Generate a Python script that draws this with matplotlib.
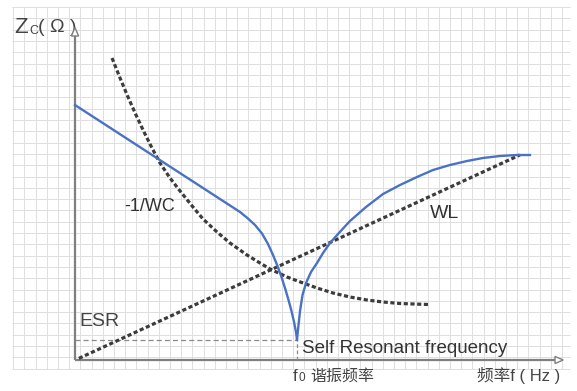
import numpy as np
import matplotlib
matplotlib.use("Agg")
import matplotlib.pyplot as plt
from matplotlib.patches import Polygon

plt.rcParams['font.family'] = ['Liberation Sans', 'Noto Sans CJK SC', 'DejaVu Sans']

# ---- data (frequency axis 0..100, impedance axis 0..100, arbitrary units) ----
f0 = 46.25
esr = 6.3

z_left_f = [0, 34.38, 36.04, 37.5, 38.96, 40.21, 41.25, 42.19, 43.02, 43.75,
            44.48, 45.10, 45.63, 46.04, 46.25]
z_left_v = [78.7, 45.68, 43.67, 41.67, 39.04, 35.80, 32.41, 29.01, 25.62, 22.22,
            18.52, 15.12, 11.73, 8.64, 6.3]

z_right_f = [46.25, 46.52, 46.88, 47.4, 48.13, 49.17, 50.42, 51.67, 53.13, 54.79,
             57.29, 60.63, 64.17, 67.71, 71.25, 74.58, 78.13, 81.67, 85.0, 88.54,
             92.08, 94.79]
z_right_v = [6.3, 10.19, 15.12, 20.06, 23.77, 27.16, 29.94, 33.02, 36.11, 38.89,
             42.90, 47.22, 51.23, 54.01, 56.48, 58.64, 60.19, 61.42, 62.35, 62.96,
             63.27, 63.27]

cap_f = [7.71, 9.38, 11.04, 12.71, 14.38, 16.04, 17.71, 19.79, 21.88, 24.58, 26.67,
         29.58, 32.29, 35.83, 38.54, 40.63, 44.17, 47.5, 50.42, 53.75, 57.29,
         60.83, 64.17, 67.71, 73.54]
cap_v = [93.21, 87.04, 81.17, 75.62, 70.37, 65.43, 60.80, 56.17, 52.16, 47.22, 43.52,
         39.51, 36.11, 32.41, 29.94, 28.09, 25.62, 23.77, 22.22, 20.68, 19.44,
         18.52, 17.90, 17.44, 17.13]

wl_f = [0.8, 92.7]
wl_v = [0.5, 63.3]

# ---- figure ----
fig = plt.figure(figsize=(5.77, 3.91), dpi=100)

# background graph paper (pixel coordinates, styling only)
bg = fig.add_axes([0, 0, 1, 1])
bg.set_xlim(0, 577)
bg.set_ylim(391, 0)
bg.axis('off')
gx = np.arange(13.2, 563, 11.2)
gy = np.arange(7.0, 370, 11.3)
bg.vlines(gx, 7, 369, colors='#dedede', lw=0.7, zorder=0)
bg.hlines(gy, 12, 570, colors='#dedede', lw=0.7, zorder=0)

# y-axis label  Zc( Ω )
txtc = '#444444'
bg.text(14, 33, 'Z', fontsize=16, color=txtc, va='baseline', ha='left')
bg.text(29.5, 34, 'C', fontsize=9, color=txtc, va='baseline', ha='left')
bg.text(38, 32, '( Ω )', fontsize=14, color=txtc, va='baseline', ha='left')
# f0 label
bg.text(293, 381, 'f', fontsize=12, color=txtc, va='baseline', ha='left')
bg.text(298.5, 381, '0', fontsize=8.5, color=txtc, va='baseline', ha='left')
bg.text(310, 381, '谐振频率', fontsize=11.5, color=txtc, va='baseline', ha='left')
bg.text(560, 381, '频率f ( Hz )', fontsize=12, color=txtc, va='baseline', ha='right')

# main chart axes
ax = fig.add_axes([0, 0, 1, 1])
ax.patch.set_alpha(0)
ax.set_xlim(-75 / 4.8, 502 / 4.8)
ax.set_ylim(-31 / 3.24, 360 / 3.24)
ax.axis('off')

axis_c = '#7f7f7f'
ax.plot([0, 0], [0, 100], color=axis_c, lw=1.6, zorder=3, solid_capstyle='butt')
ax.plot([0, 100], [0, 0], color=axis_c, lw=1.6, zorder=3, solid_capstyle='butt')
# open triangle arrow heads
ax.add_patch(Polygon([[-0.75, 100], [0.75, 100], [0, 102.6]], closed=True,
                     facecolor='white', edgecolor=axis_c, lw=1.0, zorder=4))
ax.add_patch(Polygon([[100, -1.1], [100, 1.1], [101.7, 0]], closed=True,
                     facecolor='white', edgecolor=axis_c, lw=1.0, zorder=4))

dot_c = '#3c3c3c'
ls_dot = (0, (1.3, 0.8))
ax.plot(cap_f, cap_v, color=dot_c, lw=2.3, ls=ls_dot, zorder=4)
ax.plot(wl_f, wl_v, color=dot_c, lw=2.3, ls=ls_dot, zorder=4)

# ESR and f0 dashed guides
ax.plot([0, f0], [esr, esr], color='#8a8a8a', lw=0.9, ls=(0, (4, 2.5)), zorder=3)
ax.plot([f0, f0], [0, esr], color='#8a8a8a', lw=0.9, ls=(0, (3, 2)), zorder=3)

blue = '#4a72c4'
ax.plot(z_left_f, z_left_v, color=blue, lw=1.7, zorder=5, solid_joinstyle='round')
ax.plot(z_right_f, z_right_v, color=blue, lw=1.7, zorder=5, solid_joinstyle='round')

ax.text(15.6, 47.5, '-1/WC', fontsize=13, color='#333333', ha='center', va='center')
ax.text(76.9, 45.1, 'WL', fontsize=14, color='#333333', ha='center', va='center')
ax.text(1.0, 12.0, 'ESR', fontsize=14, color='#444444', ha='left', va='center')
ax.text(47.3, 3.4, 'Self Resonant frequency', fontsize=13.5, color='#333333',
        ha='left', va='center')

fig.savefig('out.png', dpi=100)
